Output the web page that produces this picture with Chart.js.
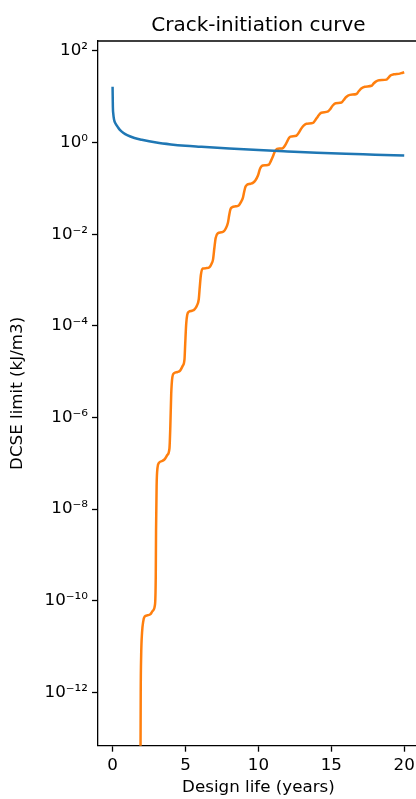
<!DOCTYPE html>
<html>
<head>
<meta charset="utf-8">
<title>Crack-initiation curve</title>
<script src="https://cdn.jsdelivr.net/npm/chart.js@4.4.1/dist/chart.umd.min.js"></script>
<style>
  html, body { margin: 0; padding: 0; background: #fff; overflow: hidden; }
  canvas { display: block; }
</style>
</head>
<body>
<canvas id="c" width="430" height="799"></canvas>
<script>
// Design life in years (x) and DCSE limit in kJ/m3 (y)
const limitYears = [0, 0.02, 0.05, 0.1, 0.2, 0.35, 0.5, 0.75, 1, 1.5, 2, 3, 4, 5, 6, 8, 10, 12, 14, 16, 18, 20];
const limitValues = [16.6, 6.0, 4.2, 3.2, 2.6, 2.2, 1.9, 1.62, 1.45, 1.26, 1.15, 1.0, 0.91, 0.85, 0.81, 0.74, 0.685, 0.64, 0.60, 0.57, 0.545, 0.52];

const demandYears = [
  1.90, 1.93, 1.96, 2.02, 2.10, 2.20, 2.40, 2.60, 2.75, 2.90,
  2.96, 2.98, 3.02, 3.08, 3.18, 3.40, 3.58, 3.75, 3.90,
  3.96, 4.02, 4.10, 4.22, 4.45, 4.63, 4.80, 4.93,
  4.98, 5.05, 5.12, 5.24, 5.45, 5.62, 5.78, 5.91,
  5.98, 6.06, 6.19, 6.45, 6.65, 6.78, 6.89,
  6.98, 7.07, 7.22, 7.45, 7.62, 7.77, 7.91,
  8.00, 8.08, 8.20, 8.45, 8.66, 8.80, 8.94,
  9.04, 9.12, 9.22, 9.45, 9.62, 9.80, 9.97,
  10.10, 10.20, 10.30, 10.50, 10.72, 10.86, 11.00,
  11.12, 11.28, 11.50, 11.68, 11.85,
  12.00, 12.10, 12.20, 12.60, 12.78,
  12.95, 13.10, 13.29, 13.75, 13.92,
  14.08, 14.20, 14.32, 14.78, 14.95,
  15.10, 15.30, 15.70, 15.85,
  16.00, 16.27, 16.73, 16.88,
  17.05, 17.30, 17.76, 17.90,
  18.05, 18.28, 18.79, 18.93,
  19.08, 19.29, 19.70, 19.85, 20.00
];
const demandValues = [
  1e-15, 1e-12, 6.3e-12, 2.0e-11, 3.5e-11, 4.5e-11, 4.8e-11, 5.1e-11, 6.0e-11, 7.9e-11,
  3.2e-10, 3.2e-9, 3.2e-8, 7.9e-8, 1.02e-7, 1.12e-7, 1.23e-7, 1.51e-7, 2.1e-7,
  6.3e-7, 3.2e-6, 7.6e-6, 9.3e-6, 9.8e-6, 1.05e-5, 1.32e-5, 1.82e-5,
  4.0e-5, 1.12e-4, 1.74e-4, 2.04e-4, 2.14e-4, 2.29e-4, 2.75e-4, 3.8e-4,
  7.1e-4, 1.32e-3, 1.78e-3, 1.82e-3, 1.91e-3, 2.24e-3, 2.82e-3,
  5.0e-3, 8.3e-3, 1.05e-2, 1.10e-2, 1.15e-2, 1.35e-2, 1.78e-2,
  2.63e-2, 3.47e-2, 3.89e-2, 4.07e-2, 4.27e-2, 5.0e-2, 6.3e-2,
  8.9e-2, 0.110, 0.120, 0.126, 0.132, 0.151, 0.191,
  0.263, 0.302, 0.316, 0.320, 0.331, 0.398, 0.501,
  0.631, 0.724, 0.741, 0.759, 0.891,
  1.10, 1.26, 1.35, 1.41, 1.66,
  2.04, 2.34, 2.57, 2.69, 3.16,
  3.72, 4.17, 4.47, 4.79, 5.50,
  6.46, 7.24, 7.50, 8.51,
  9.77, 11.0, 11.5, 13.2,
  15.1, 16.6, 17.4, 19.5,
  21.4, 22.9, 23.7, 26.3,
  29.5, 30.9, 32.0, 33.1, 34.3
];

// Axis ticks
const xTickValues = [0, 5, 10, 15, 20];
const yTickValues = [1e-12, 1e-10, 1e-8, 1e-6, 1e-4, 1e-2, 1e0, 1e2];
const yTickLabels = ['10⁻¹²', '10⁻¹⁰', '10⁻⁸', '10⁻⁶', '10⁻⁴', '10⁻²', '10⁰', '10²'];

const toPoints = (xs, ys) => xs.map((x, i) => ({ x: x, y: ys[i] }));

Chart.defaults.font.family = '"DejaVu Sans", sans-serif';
Chart.defaults.color = '#000';

const FONT = 16.7;

// Title centred over the plot area plus the top/right frame lines
const framePlugin = {
  id: 'frame',
  afterDraw(chart) {
    const { ctx, chartArea: a } = chart;
    ctx.save();
    ctx.strokeStyle = '#000';
    ctx.lineWidth = 1.3;
    ctx.beginPath();
    ctx.moveTo(a.left, a.top);
    ctx.lineTo(a.right, a.top);
    ctx.lineTo(a.right, a.bottom);
    ctx.stroke();
    ctx.fillStyle = '#000';
    ctx.font = '20px "DejaVu Sans", sans-serif';
    ctx.textAlign = 'center';
    ctx.textBaseline = 'alphabetic';
    ctx.fillText('Crack-initiation curve', (a.left + a.right) / 2, 30.5);
    ctx.restore();
  }
};

new Chart(document.getElementById('c'), {
  type: 'line',
  data: {
    datasets: [
      {
        data: toPoints(limitYears, limitValues),
        borderColor: '#1f77b4',
        borderWidth: 2.5,
        pointRadius: 0,
        cubicInterpolationMode: 'monotone',
        fill: false,
        clip: 0
      },
      {
        data: toPoints(demandYears, demandValues),
        borderColor: '#ff7f0e',
        borderWidth: 2.5,
        pointRadius: 0,
        cubicInterpolationMode: 'monotone',
        fill: false,
        clip: 0
      }
    ]
  },
  options: {
    responsive: false,
    animation: false,
    devicePixelRatio: 1,
    layout: { padding: { left: 0, top: 41, right: 11.2, bottom: 0 } },
    plugins: {
      legend: { display: false },
      tooltip: { enabled: false },
      title: { display: false }
    },
    scales: {
      x: {
        type: 'linear',
        min: -1,
        max: 21,
        afterBuildTicks(scale) { scale.ticks = xTickValues.map(v => ({ value: v })); },
        afterFit(scale) { scale.height = 53.3; },
        ticks: {
          font: { size: FONT },
          padding: 4,
          maxRotation: 0,
          autoSkip: false,
          callback: v => String(v)
        },
        grid: { display: true, drawOnChartArea: false, drawTicks: true, tickLength: 6, tickWidth: 1.3, tickColor: '#000' },
        border: { display: true, color: '#000', width: 1.3 },
        title: { display: true, text: 'Design life (years)', font: { size: FONT }, padding: { top: 0, bottom: 1 } }
      },
      y: {
        type: 'logarithmic',
        min: 6.84e-14,
        max: 165,
        afterBuildTicks(scale) { scale.ticks = yTickValues.map(v => ({ value: v })); },
        afterFit(scale) { scale.width = 98; },
        ticks: {
          font: { size: FONT },
          padding: 4,
          autoSkip: false,
          callback: (v) => {
            const i = yTickValues.findIndex(t => Math.abs(Math.log10(t) - Math.log10(v)) < 1e-6);
            return i >= 0 ? yTickLabels[i] : '';
          }
        },
        grid: { display: true, drawOnChartArea: false, drawTicks: true, tickLength: 6, tickWidth: 1.3, tickColor: '#000' },
        border: { display: true, color: '#000', width: 1.3 },
        title: { display: true, text: 'DCSE limit (kJ/m3)', font: { size: FONT }, padding: { top: 8, bottom: 0 } }
      }
    }
  },
  plugins: [framePlugin]
});
</script>
</body>
</html>
